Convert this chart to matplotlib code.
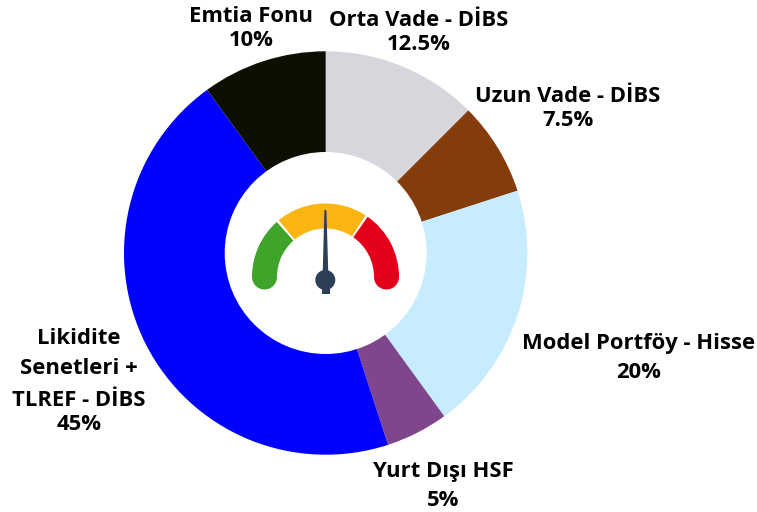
import numpy as np
import matplotlib
matplotlib.use('Agg')
import matplotlib.pyplot as plt
from matplotlib.patches import Wedge, Circle, Polygon, Rectangle

values = [12.5, 7.5, 20, 5, 45, 10]
colors = ['#d6d6dc', '#843c0c', '#c7ebff', '#7f468c', '#0000ff', '#0d0f00']
label_lines = [
    [('Orta Vade - DİBS', 419, 20), ('12.5%', 419, 44)],
    [('Uzun Vade - DİBS', 568, 97), ('7.5%', 568, 121)],
    [('Model Portföy - Hisse', 639, 343), ('20%', 639, 373)],
    [('Yurt Dışı HSF', 443, 472), ('5%', 443, 500)],
    [('Likidite', 79, 339), ('Senetleri +', 79, 368), ('TLREF - DİBS', 79, 400), ('45%', 79, 424)],
    [('Emtia Fonu', 251, 16), ('10%', 251, 41)],
]
W, H = 757, 512
fig = plt.figure(figsize=(W/100, H/100), dpi=100)
ax = fig.add_axes([0, 0, 1, 1])
ax.set_xlim(0, W); ax.set_ylim(H, 0); ax.axis('off')
ax.set_aspect('equal')
cx, cy, R = 325.7, 253, 201.7
ang = 90
for v, c in zip(values, colors):
    a2 = ang - v*3.6
    ax.add_patch(Wedge((cx, cy), R, -ang, -a2, fc=c, ec='none'))
    ang = a2
ax.add_patch(Circle((cx, cy), 101, fc='white', ec='none'))
for group in label_lines:
    for s, x, y in group:
        ax.text(x, y, s, ha='center', va='center', fontsize=15.85, fontweight='bold',
                family='Open Sans', color='black')

gx, gy, gr, gw = 325.5, 277, 61, 25
def arc(a1, a2, col):
    ax.add_patch(Wedge((gx, gy), gr+gw/2, -a1, -a2, width=gw, fc=col, ec='none'))
arc(180, 131.5, '#3fa52a'); arc(129.5, 57, '#fbb512'); arc(55, 0, '#e2001a')
for a, col in [(180, '#3fa52a'), (0, '#e2001a')]:
    ax.add_patch(Circle((gx+gr*np.cos(np.radians(a)), gy), gw/2, fc=col, ec='none'))
ax.add_patch(Polygon([(322.5, 280), (324.4, 210), (326.4, 210), (328.5, 280)], fc='#2d3e57', ec='none'))
ax.add_patch(Circle((325.3, 280), 10, fc='#2d3e57', ec='none'))
ax.add_patch(Rectangle((321.5, 285), 8, 9, fc='#2d3e57', ec='none'))
fig.savefig('out.png', dpi=100)
